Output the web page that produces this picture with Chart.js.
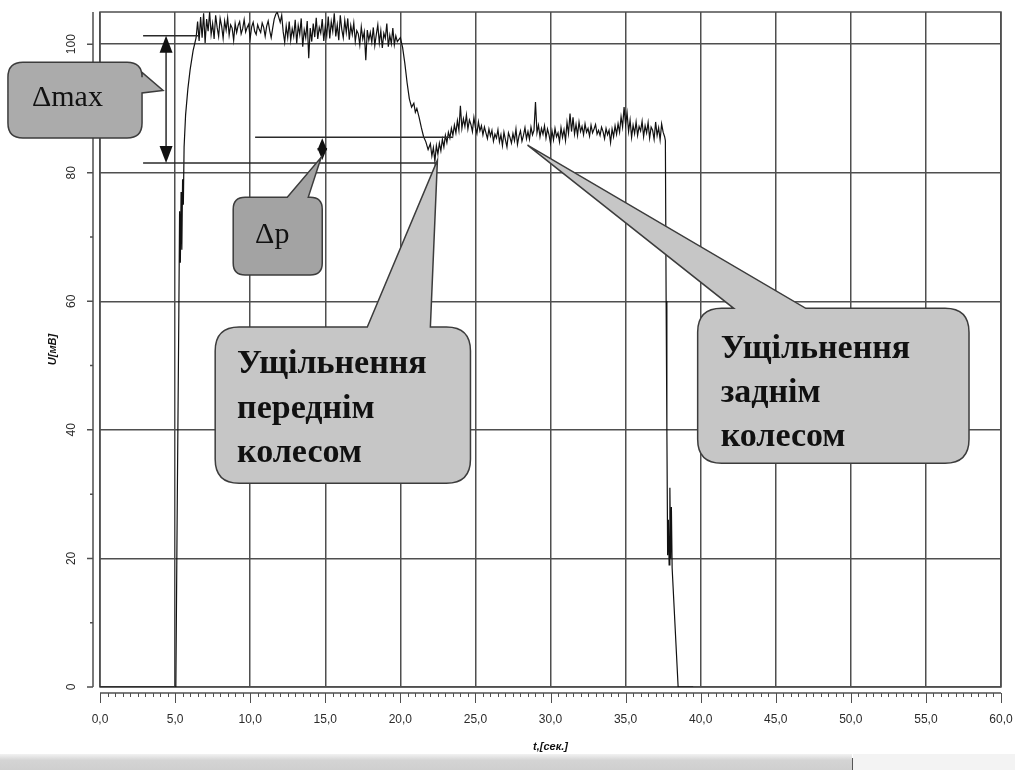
<!DOCTYPE html>
<html>
<head>
<meta charset="utf-8">
<script src="https://cdn.jsdelivr.net/npm/chart.js@4"></script>
<style>
  body { margin: 0; background: #fff; }
  #wrap { position: relative; width: 1015px; height: 770px; overflow: hidden; }
  #plot { position: absolute; left: 0; top: 0; }
  .strip { position: absolute; left: 0; top: 754px; width: 852px; height: 16px;
           background: linear-gradient(#f2f2f2, #d4d4d4 40%, #cfcfcf); }
  .strip-end { position: absolute; left: 852px; top: 758px; width: 1px; height: 12px; background: #555; }
  .strip-right { position: absolute; left: 853px; top: 754px; width: 162px; height: 16px; background: #f3f3f3; }
</style>
</head>
<body>
<div id="wrap">
  <canvas id="plot" width="1015" height="770"></canvas>
  <div class="strip"></div>
  <div class="strip-right"></div>
  <div class="strip-end"></div>
</div>
<script>
// --- data (time in s, voltage in mV) ---
const SAMPLE_STEP = 0.1;

// idle + run-up
const riseTime = [0, 5.05, 5.15, 5.25, 5.3, 5.35, 5.4, 5.45, 5.5, 5.55, 5.6, 5.7, 5.85, 6.0, 6.2, 6.4];
const riseVolt = [0, 0, 30, 58, 74, 66, 77, 68, 79, 75, 84, 89, 93, 96, 99, 101];

// first plateau, sampled every SAMPLE_STEP from 6.5 s
const plateau1Start = 6.5;
const plateau1Volt = [
  103.5, 100.5, 104.2, 101.0, 104.8, 100.2, 103.9, 102.0, 105.0, 101.5, 103.2, 100.8, 104.5, 102.6, 101.2, 104.0, 102.8, 100.9, 103.6, 102.2, 104.1, 101.4, 103.0, 102.5, 100.6,
  103.2, 101.8, 102.9, 103.5, 101.6, 102.4, 103.8, 101.9, 102.6, 103.1, 100.9, 102.7, 103.4, 102.0, 101.5, 103.0, 102.3, 101.8, 103.3, 102.6, 101.2, 102.8, 103.6, 102.1, 101.0, 102.5, 103.9, 104.6, 105.0, 104.2,
  103.4, 104.5, 101.9, 100.3, 102.8, 101.0, 103.5, 100.6, 102.4, 101.2, 103.8, 100.1, 102.9, 101.5, 104.0, 99.6, 102.2, 101.0, 103.6, 97.8, 102.5, 100.4, 103.2, 101.1, 104.1, 100.8, 102.6, 101.7, 103.9, 100.5,
  102.8, 101.3, 104.3, 100.9, 103.5, 102.0, 104.8, 101.2, 103.0, 100.6, 104.5, 102.3, 101.0, 103.7, 101.8, 104.0, 100.7, 102.9, 101.5, 103.3, 100.4, 102.1, 101.6, 99.9, 102.7, 100.8, 101.9, 97.5, 102.2, 100.6,
  101.8, 100.3, 102.6, 99.8, 101.5, 103.0, 100.2, 102.1, 99.4, 101.7, 100.9, 103.2, 99.6, 101.4, 100.1, 102.5, 99.9, 101.3, 100.4
];

// front wheel drop
const dropTime = [20.0, 20.15, 20.3, 20.45, 20.6, 20.75, 20.9, 21.0, 21.1, 21.25, 21.4, 21.55, 21.7, 21.85, 22.0, 22.1, 22.2, 22.3, 22.4];
const dropVolt = [101.0, 99.5, 97.0, 94.0, 91.5, 90.2, 90.8, 89.4, 90.0, 88.6, 87.0, 85.6, 84.8, 83.6, 84.5, 82.6, 83.9, 81.8, 84.2];

// second plateau, sampled every SAMPLE_STEP from 22.5 s
const plateau2Start = 22.5;
const plateau2Volt = [
  82.9, 84.6, 83.4, 85.2, 84.0, 85.8, 84.7, 86.3, 85.4, 86.9,
  85.8, 87.4, 86.2, 88.1, 86.6, 90.4, 86.9, 88.4, 87.2, 89.0,
  86.8, 88.2, 87.5, 86.4, 88.6, 87.0, 86.1, 87.9, 86.5, 87.3,
  85.9, 87.1, 86.2, 85.3, 86.8, 85.7, 86.6, 84.9, 86.0, 85.4,
  86.7, 84.8, 85.9, 84.2, 86.3, 85.1, 84.0, 86.2, 85.5, 84.6,
  86.1, 85.0, 86.8, 84.4, 85.7, 86.5, 84.9, 85.8, 87.0, 85.3,
  86.4, 85.2, 87.1, 85.9, 86.6, 91.0, 86.2, 87.4, 85.6, 86.9,
  86.0, 87.3, 85.4, 86.8, 85.9, 84.6, 86.5, 85.1, 86.9, 85.6,
  86.2, 84.8, 87.0, 85.5, 86.7, 85.0, 87.8, 86.1, 89.2, 86.4,
  88.6, 86.0, 87.5, 85.8, 87.9, 86.4, 87.2, 85.9, 87.6, 86.3,
  86.9, 85.7, 87.4, 86.2, 86.8, 87.5, 86.0, 86.6, 85.8, 87.1,
  86.4, 85.3, 86.9, 85.9, 86.6, 84.7, 86.8, 85.6, 87.3, 86.0,
  87.6, 86.3, 88.7, 87.1, 90.2, 87.5, 89.3, 86.4, 88.2, 85.5,
  87.4, 86.1, 87.9, 85.8, 87.2, 86.5, 88.0, 85.6, 87.3, 86.2,
  87.8, 85.4, 87.1, 86.6, 85.2, 87.9, 85.8, 87.0, 85.1, 87.6,
  86.3, 85.6
];

// roller leaves the strip
const endTime = [37.65, 37.7, 37.75, 37.8, 37.85, 37.9, 37.95, 38.0, 38.05, 38.1, 38.5, 39.5];
const endVolt = [85.0, 60.0, 40.0, 20.5, 26.0, 19.0, 31.0, 20.0, 28.0, 18.5, 0, 0];

// axes
const xTicks = { min: 0, max: 60, step: 5, minor: 0.5 };
const yTicks = { min: 0, max: 105, step: 20, minor: 10 };
const xTitle = 't,[сек.]';
const yTitle = 'U[мВ]';

// annotation levels (mV) and positions (s)
const maxLevel = 101.3, lowLevel = 81.5, pLevel = 85.5;
const maxArrowT = 4.4, pArrowT = 14.8;

// callouts: box [t0, t1, U top, U bottom], pointer side, pointer base, tip [t, U]
const callouts = [
  { lines: ['Δmax'], bold: false, size: 30, fill: '#ababab', box: [-6.13, 2.8, 97.2, 85.4], radius: 15,
    side: 'right', base: [95.6, 92.4], tip: [4.2, 92.8], text: [-4.53, 90.4], lh: 0 },
  { lines: ['Δp'], bold: false, size: 30, fill: '#a3a3a3', box: [8.87, 14.8, 76.2, 64.1], radius: 12,
    side: 'top', base: [12.47, 13.87], tip: [14.73, 82.4], text: [10.33, 69.05], lh: 0 },
  { lines: ['Ущільнення', 'переднім', 'колесом'], bold: true, size: 34, fill: '#c6c6c6', box: [7.67, 24.67, 56.0, 31.7], radius: 24,
    side: 'top', base: [17.8, 22.0], tip: [22.47, 81.96], text: [9.13, 48.8], lh: 44.5 },
  { lines: ['Ущільнення', 'заднім', 'колесом'], bold: true, size: 34, fill: '#c6c6c6', box: [39.8, 57.87, 58.9, 34.8], radius: 24,
    side: 'top', base: [42.2, 47.0], tip: [28.47, 84.3], text: [41.33, 51.2], lh: 44 }
];

function sampled(start, values) {
  return values.map((v, i) => ({ x: +(start + i * SAMPLE_STEP).toFixed(2), y: v }));
}
function paired(times, values) {
  return times.map((t, i) => ({ x: t, y: values[i] }));
}

const points = [].concat(
  paired(riseTime, riseVolt),
  sampled(plateau1Start, plateau1Volt),
  paired(dropTime, dropVolt),
  sampled(plateau2Start, plateau2Volt),
  paired(endTime, endVolt)
);

const GRID = '#4f4f4f';

// keep the plot box fixed: no extra room for first/last tick labels
function noEdgePadding(scale) {
  scale.paddingTop = 0;
  scale.paddingBottom = 0;
  scale.paddingLeft = 0;
  scale.paddingRight = 0;
}

// frame, offset y axis and x ruler
const frameAxes = {
  id: 'frameAxes',
  beforeDatasetsDraw(chart) {
    const { ctx, chartArea: a, scales: { x, y } } = chart;
    ctx.save();
    ctx.strokeStyle = GRID;
    ctx.lineWidth = 1.5;
    ctx.strokeRect(a.left, a.top, a.right - a.left, a.bottom - a.top);

    // y axis line with ticks
    const ax = a.left - 7;
    ctx.beginPath();
    ctx.moveTo(ax, a.top);
    ctx.lineTo(ax, a.bottom);
    for (let v = yTicks.min; v <= 100; v += yTicks.minor) {
      const py = y.getPixelForValue(v);
      const len = v % yTicks.step === 0 ? 6 : 3;
      ctx.moveTo(ax - len, py);
      ctx.lineTo(ax, py);
    }
    ctx.stroke();

    // x ruler
    const ry = a.bottom + 6;
    ctx.beginPath();
    ctx.moveTo(x.getPixelForValue(xTicks.min), ry);
    ctx.lineTo(x.getPixelForValue(xTicks.max), ry);
    ctx.stroke();
    ctx.lineWidth = 1;
    ctx.beginPath();
    for (let i = 0; i <= (xTicks.max - xTicks.min) / xTicks.minor; i++) {
      const v = xTicks.min + i * xTicks.minor;
      const px = Math.round(x.getPixelForValue(v)) + 0.5;
      const major = Math.abs(v % xTicks.step) < 1e-6;
      ctx.moveTo(px, ry);
      ctx.lineTo(px, ry + (major ? 10 : 4));
    }
    ctx.stroke();
    ctx.restore();
  }
};

function calloutPath(ctx, c, x, y) {
  const x0 = x.getPixelForValue(c.box[0]), x1 = x.getPixelForValue(c.box[1]);
  const y0 = y.getPixelForValue(c.box[2]), y1 = y.getPixelForValue(c.box[3]);
  const r = c.radius;
  const tx = x.getPixelForValue(c.tip[0]), ty = y.getPixelForValue(c.tip[1]);
  ctx.beginPath();
  ctx.moveTo(x0 + r, y0);
  if (c.side === 'top') {
    ctx.lineTo(x.getPixelForValue(c.base[0]), y0);
    ctx.lineTo(tx, ty);
    ctx.lineTo(x.getPixelForValue(c.base[1]), y0);
  }
  ctx.lineTo(x1 - r, y0);
  ctx.quadraticCurveTo(x1, y0, x1, y0 + r);
  if (c.side === 'right') {
    ctx.lineTo(x1, y.getPixelForValue(c.base[0]));
    ctx.lineTo(tx, ty);
    ctx.lineTo(x1, y.getPixelForValue(c.base[1]));
  }
  ctx.lineTo(x1, y1 - r);
  ctx.quadraticCurveTo(x1, y1, x1 - r, y1);
  ctx.lineTo(x0 + r, y1);
  ctx.quadraticCurveTo(x0, y1, x0, y1 - r);
  ctx.lineTo(x0, y0 + r);
  ctx.quadraticCurveTo(x0, y0, x0 + r, y0);
  ctx.closePath();
}

function arrowHead(ctx, px, py, dir, w, h) {
  ctx.beginPath();
  ctx.moveTo(px, py);
  ctx.lineTo(px - w / 2, py + dir * h);
  ctx.lineTo(px + w / 2, py + dir * h);
  ctx.closePath();
  ctx.fill();
}

// level lines, arrows and speech-bubble callouts
const annotations = {
  id: 'annotations',
  afterDatasetsDraw(chart) {
    const { ctx, scales: { x, y } } = chart;
    ctx.save();
    ctx.strokeStyle = '#2a2a2a';
    ctx.fillStyle = '#111';
    ctx.lineWidth = 1.5;

    const hline = (level, t0, t1) => {
      const py = y.getPixelForValue(level);
      ctx.beginPath();
      ctx.moveTo(x.getPixelForValue(t0), py);
      ctx.lineTo(x.getPixelForValue(t1), py);
      ctx.stroke();
    };
    hline(maxLevel, 2.87, 6.6);
    hline(lowLevel, 2.87, 22.5);
    hline(pLevel, 10.33, 23.5);

    // Δmax arrow
    const mx = x.getPixelForValue(maxArrowT);
    const mTop = y.getPixelForValue(maxLevel), mBot = y.getPixelForValue(lowLevel);
    ctx.beginPath();
    ctx.moveTo(mx, mTop + 10);
    ctx.lineTo(mx, mBot - 10);
    ctx.stroke();
    arrowHead(ctx, mx, mTop, 1, 13, 17);
    arrowHead(ctx, mx, mBot, -1, 13, 17);

    // Δp arrow
    const px = x.getPixelForValue(pArrowT);
    const pTop = y.getPixelForValue(pLevel), pBot = y.getPixelForValue(lowLevel);
    arrowHead(ctx, px, pTop + 1, 1, 10, 12);
    arrowHead(ctx, px, pBot - 3, -1, 10, 12);

    callouts.forEach(c => {
      calloutPath(ctx, c, x, y);
      ctx.fillStyle = c.fill;
      ctx.fill();
      ctx.strokeStyle = '#3c3c3c';
      ctx.lineWidth = 1.5;
      ctx.stroke();
      ctx.fillStyle = '#111';
      ctx.font = (c.bold ? 'bold ' : '') + c.size + 'px "Liberation Serif", "Times New Roman", serif';
      ctx.textBaseline = 'alphabetic';
      ctx.textAlign = 'left';
      const tx = x.getPixelForValue(c.text[0]);
      const ty = y.getPixelForValue(c.text[1]);
      c.lines.forEach((line, i) => ctx.fillText(line, tx, ty + i * c.lh));
    });
    ctx.restore();
  }
};

const ctx = document.getElementById('plot').getContext('2d');
const chart = new Chart(ctx, {
  type: 'line',
  data: {
    datasets: [{
      data: points,
      borderColor: '#111',
      borderWidth: 1.2,
      pointRadius: 0,
      tension: 0,
      fill: false
    }]
  },
  options: {
    responsive: false,
    animation: false,
    devicePixelRatio: 1,
    layout: { padding: { top: 12, right: 14, left: 0, bottom: 0 } },
    plugins: { legend: { display: false }, tooltip: { enabled: false } },
    scales: {
      x: {
        type: 'linear',
        min: xTicks.min,
        max: xTicks.max,
        afterFit(scale) { scale.height = 83; noEdgePadding(scale); },
        grid: { color: GRID, lineWidth: 1.5, drawTicks: false },
        border: { display: false },
        ticks: {
          stepSize: xTicks.step,
          maxRotation: 0,
          padding: 25,
          color: '#2b2b2b',
          font: { family: '"Liberation Sans Narrow", "Liberation Sans", Arial, sans-serif', size: 12 },
          callback: v => v.toFixed(1).replace('.', ',')
        },
        title: {
          display: true,
          text: xTitle,
          color: '#111',
          padding: { top: 0, bottom: 16 },
          font: { family: '"Liberation Sans", Arial, sans-serif', size: 11, weight: 'bold', style: 'italic' }
        }
      },
      y: {
        min: yTicks.min,
        max: yTicks.max,
        afterFit(scale) { scale.width = 100; noEdgePadding(scale); },
        grid: { color: GRID, lineWidth: 1.5, drawTicks: false },
        border: { display: false },
        ticks: {
          stepSize: yTicks.step,
          includeBounds: false,
          minRotation: 90,
          maxRotation: 90,
          crossAlign: 'center',
          padding: 18,
          color: '#2b2b2b',
          font: { family: '"Liberation Sans Narrow", "Liberation Sans", Arial, sans-serif', size: 12 }
        },
        title: {
          display: true,
          text: yTitle,
          color: '#111',
          padding: { top: 46, bottom: 0 },
          font: { family: '"Liberation Sans", Arial, sans-serif', size: 11, weight: 'bold', style: 'italic' }
        }
      }
    }
  },
  plugins: [frameAxes, annotations]
});
</script>
</body>
</html>
